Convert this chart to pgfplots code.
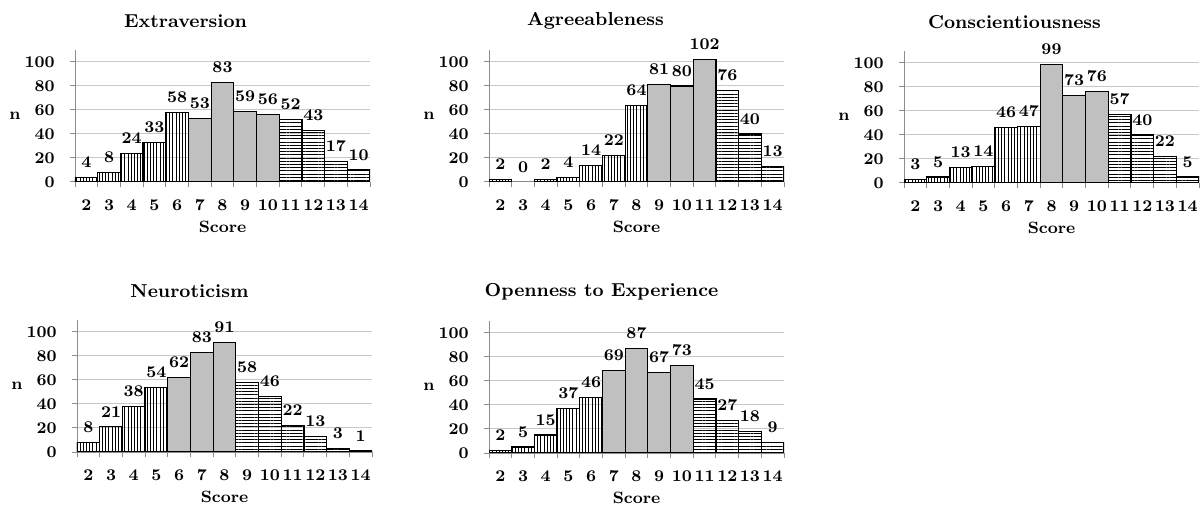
\documentclass[border=0pt]{standalone}
\usepackage{pgfplots}
\pgfplotsset{compat=1.18}
\usetikzlibrary{patterns.meta}

\definecolor{barfill}{HTML}{C0C0C0}
\definecolor{gridc}{HTML}{C8C8C8}
\definecolor{axisc}{HTML}{8C8C8C}

\newcommand\lblfont{\bfseries\fontsize{8.2}{9}\selectfont}
\newcommand\ttlfont{\bfseries\fontsize{9.4}{11}\selectfont}

\pgfplotsset{
  vbar/.style={draw=black, line width=0.6bp, bar shift=0pt,
    pattern={Lines[angle=90,distance=1.6bp,line width=0.45bp]}, pattern color=black},
  gbar/.style={draw=black, line width=0.6bp, bar shift=0pt, fill=barfill},
  hbar/.style={draw=black, line width=0.6bp, bar shift=0pt,
    pattern={Lines[angle=0,distance=1.6bp,line width=0.45bp]}, pattern color=black},
  zbar/.style={draw=none, fill=none, bar shift=0pt},
  big5/.style={
    ybar, bar width=1,
    scale only axis, width=147.5bp, height=66bp,
    xmin=1.5, xmax=14.5, ymin=0, ymax=110,
    axis lines*=left,
    axis line style={axisc, line width=0.5bp},
    ymajorgrids, grid style={gridc, line width=0.5bp},
    ytick={0,20,...,100},
    minor ytick={0,20,...,100},
    xtick={2,3,4,5,6,7,8,9,10,11,12,13,14},
    minor xtick={1.5,2.5,3.5,4.5,5.5,6.5,7.5,8.5,9.5,10.5,11.5,12.5,13.5,14.5},
    tick align=outside, major tick length=0pt, minor tick length=2.5bp,
    tick style={axisc, line width=0.5bp},
    /pgf/number format/assume math mode=true,
    ticklabel style={font=\lblfont},
    xticklabel style={anchor=center, yshift=-11.5bp},
    yticklabel style={anchor=east, inner sep=0pt, xshift=-10bp},
    nodes near coords,
    every node near coord/.append style={font=\lblfont, anchor=south,
      inner sep=0pt, yshift=4.5bp},
    xlabel={Score},
    xlabel style={font=\lblfont, at={(axis description cs:0.5,0)},
      anchor=center, yshift=-22.5bp},
    ylabel={n},
    ylabel style={font=\lblfont, rotate=-90, at={(axis description cs:0,0.5)},
      anchor=center, xshift=-30bp},
    title style={font=\ttlfont, at={(axis description cs:0.5,1)},
      anchor=center, yshift=8.5bp},
  }
}

\begin{document}
\begin{tikzpicture}
\path[use as bounding box] (0,0) rectangle (600bp,255bp);

% Extraversion
\begin{axis}[big5, at={(37.5bp,164bp)}, anchor=south west,
  title={Extraversion}, title style={xshift=-18.5bp}]
  \addplot[vbar] coordinates {(2,4) (3,8) (4,24) (5,33) (6,58)};
  \addplot[gbar] coordinates {(7,53) (8,83) (9,59) (10,56)};
  \addplot[hbar] coordinates {(11,52) (12,43) (13,17) (14,10)};
\end{axis}

% Agreeableness
\begin{axis}[big5, at={(244.5bp,164bp)}, anchor=south west,
  title={Agreeableness}, title style={xshift=-20.5bp}]
  \addplot[vbar] coordinates {(2,2) (4,2) (5,4) (6,14) (7,22) (8,64)};
  \addplot[zbar] coordinates {(3,0)};
  \addplot[gbar] coordinates {(9,81) (10,80) (11,102)};
  \addplot[hbar] coordinates {(12,76) (13,40) (14,13)};
\end{axis}

% Conscientiousness
\begin{axis}[big5, at={(452bp,163.5bp)}, anchor=south west,
  title={Conscientiousness}, title style={xshift=-18.5bp}]
  \addplot[vbar] coordinates {(2,3) (3,5) (4,13) (5,14) (6,46) (7,47)};
  \addplot[gbar] coordinates {(8,99) (9,73) (10,76)};
  \addplot[hbar] coordinates {(11,57) (12,40) (13,22) (14,5)};
\end{axis}

% Neuroticism
\begin{axis}[big5, at={(38.5bp,29bp)}, anchor=south west,
  title={Neuroticism}, title style={xshift=-17.5bp}]
  \addplot[vbar] coordinates {(2,8) (3,21) (4,38) (5,54)};
  \addplot[gbar] coordinates {(6,62) (7,83) (8,91)};
  \addplot[hbar] coordinates {(9,58) (10,46) (11,22) (12,13) (13,3) (14,1)};
\end{axis}

% Openness to Experience
\begin{axis}[big5, at={(244.5bp,28.5bp)}, anchor=south west,
  title={Openness to Experience}, title style={xshift=-17.5bp}]
  \addplot[vbar] coordinates {(2,2) (3,5) (4,15) (5,37) (6,46)};
  \addplot[gbar] coordinates {(7,69) (8,87) (9,67) (10,73)};
  \addplot[hbar] coordinates {(11,45) (12,27) (13,18) (14,9)};
\end{axis}
\end{tikzpicture}
\end{document}
